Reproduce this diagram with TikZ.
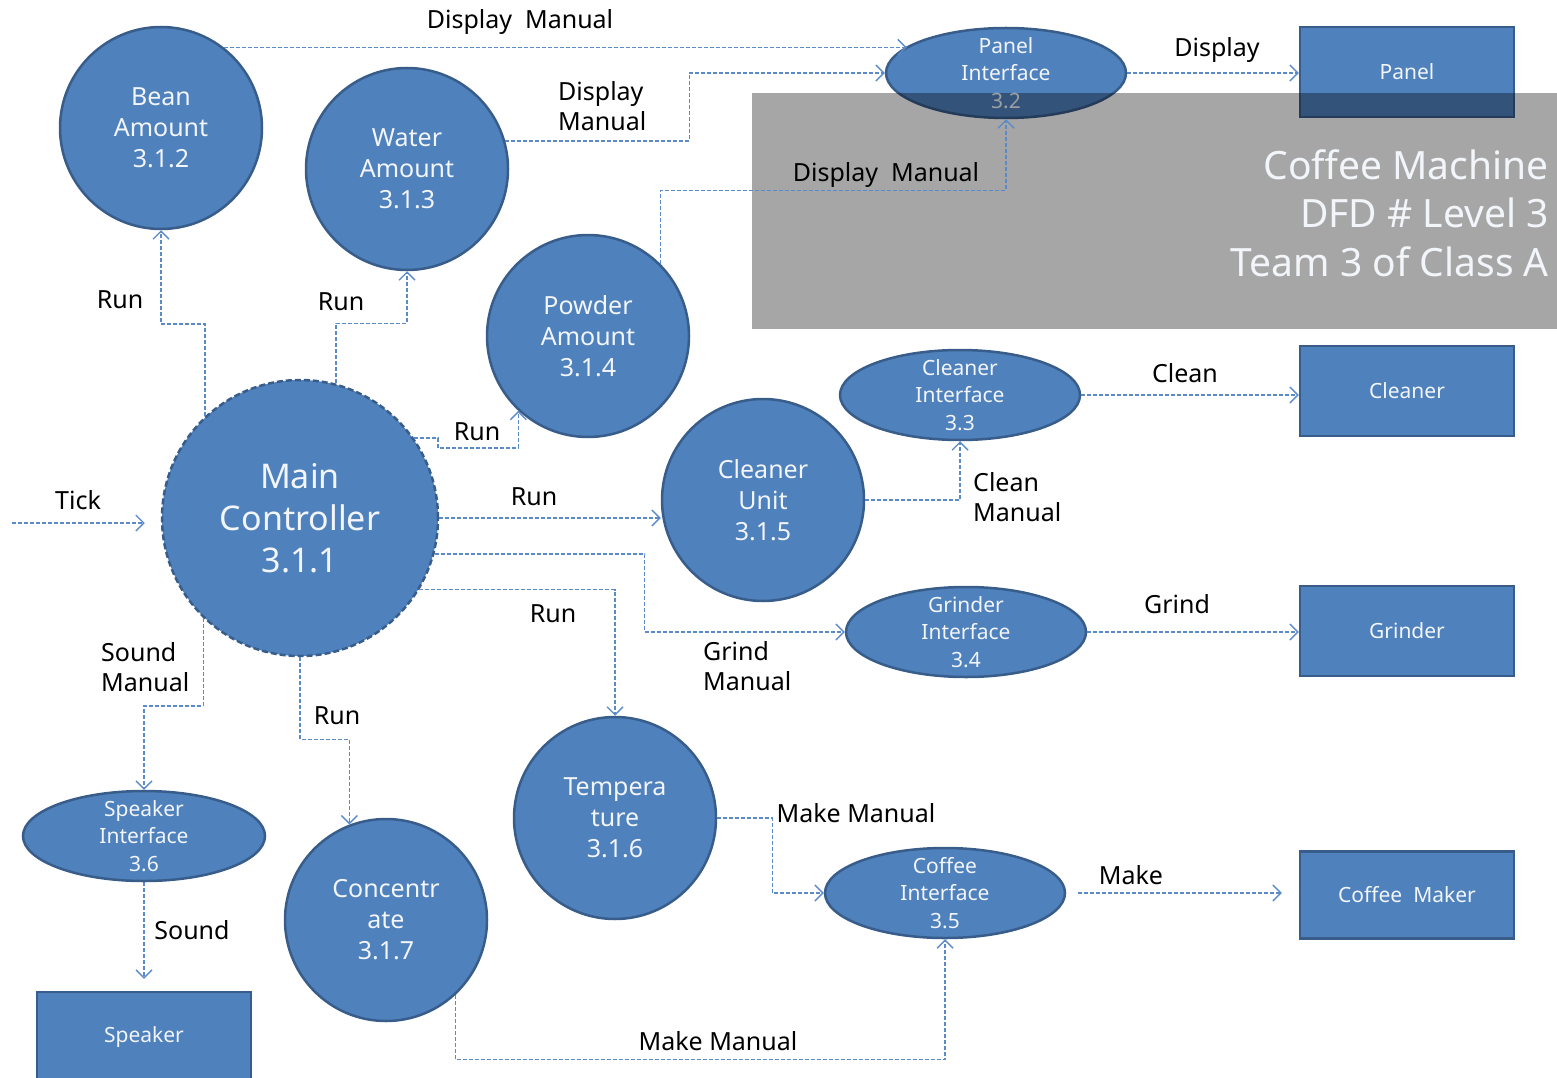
\documentclass[tikz,border=0pt]{standalone}
\usepackage{fontspec}
\setmainfont{Noto Sans}
\usetikzlibrary{arrows.meta,shapes.geometric}
\definecolor{procfill}{HTML}{4F81BD}
\definecolor{procedge}{HTML}{385D8A}
\definecolor{flowc}{HTML}{5B8ACB}
\definecolor{txtlight}{HTML}{F2F5FA}
\begin{document}
\begin{tikzpicture}[x=1pt,y=-1pt,
  proc/.style={circle,fill=procfill,draw=procedge,line width=2.5pt,minimum size=202pt,
    inner sep=0pt,text=txtlight,align=center,font=\fontsize{25}{31}\selectfont},
  iface/.style={ellipse,fill=procfill,draw=procedge,line width=2.5pt,minimum width=240pt,
    minimum height=90pt,inner xsep=0pt,inner ysep=-14pt,text=txtlight,align=center,
    font=\fontsize{21}{27.5}\selectfont},
  term/.style={rectangle,fill=procfill,draw=procedge,line width=2.5pt,minimum width=214pt,
    minimum height=90pt,text=txtlight,font=\fontsize{21}{26}\selectfont},
  flow/.style={draw=flowc,line width=1.4pt,dash pattern=on 4pt off 2pt,
    -{Straight Barb[length=8pt,width=16pt]}},
  lbl/.style={font=\fontsize{25}{30}\selectfont,text=black,align=left,inner sep=0pt},
]
\useasboundingbox (0,0) rectangle (1557,1078);
\clip (0,0) rectangle (1557,1078);

% processes
\node[proc] (bean)   at (161,128) {Bean\\Amount\\3.1.2};
\node[proc] (water)  at (407,169) {Water\\Amount\\3.1.3};
\node[proc] (powder) at (588,336) {Powder\\Amount\\3.1.4};
\node[proc,minimum size=276pt,dash pattern=on 6pt off 3pt,
      font=\fontsize{34}{42}\selectfont] (main) at (300,518) {Main\\Controller\\3.1.1};
\node[proc] (cunit)  at (763,500) {Cleaner\\Unit\\3.1.5};
\node[proc] (temp)   at (615,818) {Tempera\\ture\\3.1.6};
\node[proc] (conc)   at (386,920) {Concentr\\ate\\3.1.7};

% interfaces
\node[iface] (pif)    at (1006,73)  {Panel\\Interface\\3.2};
\node[iface] (cif)    at (960,395)  {Cleaner\\Interface\\3.3};
\node[iface] (gif)    at (966,632)  {Grinder\\Interface\\3.4};
\node[iface] (coffif) at (945,893)  {Coffee\\Interface\\3.5};
\node[iface,minimum width=242pt] (sif) at (144,836) {Speaker\\Interface\\3.6};

% terminators
\node[term] (panel)   at (1407,72)   {Panel};
\node[term] (cleaner) at (1407,391)  {Cleaner};
\node[term] (grinder) at (1407,631)  {Grinder};
\node[term,minimum height=87pt] (cmaker) at (1407,895) {Coffee\ \ Maker};
\node[term] (speaker) at (144,1037)  {Speaker};

% title panel
\fill[black,fill opacity=0.35] (752,93) rectangle (1557,329);
\node[anchor=east,align=right,text=txtlight,inner sep=0pt,
      font=\fontsize{39}{48.5}\selectfont] (title) at (1549,213)
      {Coffee Machine\\DFD \# Level 3\\Team 3 of Class A};

% data flows
\coordinate (tickin) at (12,523);
\draw[flow] (bean.52) -- (bean.52 -| pif.165);
\draw[flow] (water.16) -- ++(184,0) |- (pif.west);
\draw[flow] (powder.45) -- ++(0,-73) -| (pif.south);
\draw[flow] (pif.east) -- (pif.east -| panel.west);
\draw[flow] (main.133) -- ++(0,-92) -| (bean.south);
\draw[flow] (main.75) -- ++(0,-60) -| (water.south);
\draw[flow] (main.35) -- ++(24,0) -- ++(0,10) -| (powder.227);
\draw[flow] (main.east) -- (main.east -| cunit.west);
\draw[flow] (main.-15) -- ++(210,0) |- (gif.west);
\draw[flow] (main.-31) -| (temp.north);
\draw[flow] (main.south) -- ++(0,82) -| (conc.111);
\draw[flow] (main.226) -- ++(0,88) -| (sif.north);
\draw[flow,shorten >=16pt] (tickin) -- (tickin -| main.west);
\draw[flow] (cunit.east) -| (cif.south);
\draw[flow] (cif.east) -- (cif.east -| cleaner.west);
\draw[flow] (gif.east) -- (gif.east -| grinder.west);
\draw[flow] (temp.east) -- ++(55,0) |- (coffif.west);
\draw[flow] (conc.-47) -- ++(0,65) -| (coffif.south);
\draw[flow,shorten <=12pt,shorten >=17pt] (coffif.east) -- (coffif.east -| cmaker.west);
\draw[flow,shorten >=12pt] (sif.south) -- (speaker.north);

% flow labels
\node[lbl] (l1)  at (520,22)  {Display\ \ Manual};
\node[lbl,anchor=west] (l2) at (558,106) {Display\\Manual};
\node[lbl] (l3)  at (886,175) {Display\ \ Manual};
\node[lbl] (l4)  at (1217,50) {Display};
\node[lbl] (l5)  at (120,300) {Run};
\node[lbl] (l6)  at (341,302) {Run};
\node[lbl] (l7)  at (477,432) {Run};
\node[lbl] (l8)  at (534,497) {Run};
\node[lbl] (l9)  at (553,614) {Run};
\node[lbl] (l10) at (337,716) {Run};
\node[lbl] (l11) at (78,500)  {Tick};
\node[lbl,anchor=west] (l12) at (101,667) {Sound\\Manual};
\node[lbl,anchor=west] (l13) at (973,497) {Clean\\Manual};
\node[lbl] (l14) at (1185,373) {Clean};
\node[lbl,anchor=west] (l15) at (703,666) {Grind\\Manual};
\node[lbl] (l16) at (1177,604) {Grind};
\node[lbl] (l17) at (856,813) {Make Manual};
\node[lbl] (l18) at (718,1041) {Make Manual};
\node[lbl] (l19) at (1131,875) {Make};
\node[lbl] (l20) at (192,930) {Sound};
\end{tikzpicture}
\end{document}
